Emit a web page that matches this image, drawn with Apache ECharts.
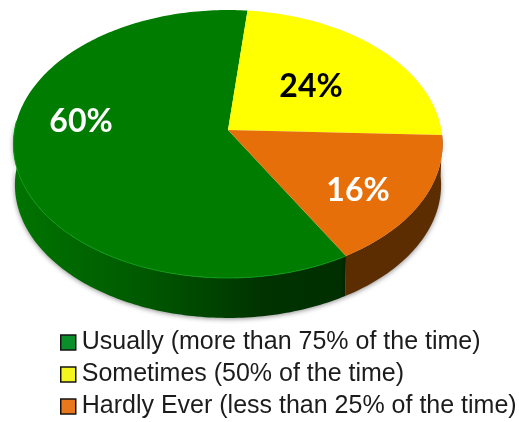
<!DOCTYPE html>
<html>
<head>
<meta charset="utf-8">
<style>html,body{margin:0;padding:0;background:#fff}#c{width:519px;height:422px}</style>
<script src="https://cdn.jsdelivr.net/npm/echarts@6/dist/echarts.min.js"></script>
</head>
<body>
<div id="c"></div>
<script>
const categories = ['Usually (more than 75% of the time)', 'Sometimes (50% of the time)', 'Hardly Ever (less than 25% of the time)'];
const percentValues = [60, 24, 16];
const percentLabels = ['60%', '24%', '16%'];
const topColors = ['#007c00', '#ffff00', '#e76f0a'];
const labelColors = ['#ffffff', '#000000', '#ffffff'];
const legendColors = ['#0b8f2a', '#f4f41e', '#e8781c'];

// projection of the tilted disc
const CX = 228, CY = 130, R = 213.4, SY = 132.5, K = -0.1045;
const BASE_SCALE = 0.993, BASE_DROP = 41;
const START_DEG = 149.8, FRONT_FROM = 92, FRONT_TO = 274;
const LABEL_AT = [[81, 122], [311, 87], [358, 191]];
const total = percentValues.reduce((a, b) => a + b, 0);

function rim(deg, scale, drop) {
  const a = deg * Math.PI / 180, X = Math.sin(a), Y = -Math.cos(a), w = 1 + K * Y;
  return [CX + scale * R * X / w, CY + drop + scale * SY * Y / w];
}
function arc(from, to, scale, drop) {
  const pts = [], n = Math.max(2, Math.ceil(Math.abs(to - from)));
  for (let i = 0; i <= n; i++) pts.push(rim(from + (to - from) * i / n, scale, drop));
  return pts;
}
const sideFills = [
  {type: 'linear', x: 13, y: 0, x2: 345, y2: 0, global: true, colorStops: [
    {offset: 0, color: '#007400'}, {offset: 0.38, color: '#005a00'},
    {offset: 0.75, color: '#003300'}, {offset: 1, color: '#002e00'}]},
  '#8a8a00',
  '#5c2d00'
];

function renderSlice(index) {
  return function (params, api) {
    const value = api.value(0);
    let before = 0;
    for (let i = 0; i < index; i++) before += percentValues[i];
    const from = (START_DEG + before / total * 360) % 360;
    const to = from + value / total * 360;
    const children = [];
    const sFrom = Math.max(from, FRONT_FROM), sTo = Math.min(to, FRONT_TO);
    if (sTo > sFrom) {
      const ribbon = arc(sFrom, sTo, 1, 0).concat(arc(sTo, sFrom, BASE_SCALE, BASE_DROP));
      children.push({type: 'polygon', shape: {points: ribbon}, style: {
        fill: sideFills[index], shadowBlur: 5, shadowColor: 'rgba(0,0,0,0.45)', shadowOffsetY: 1}});
    }
    children.push({type: 'polygon', shape: {points: [[CX, CY]].concat(arc(from, to, 1, 0))},
      style: {fill: topColors[index]}});
    if (sTo > sFrom && index === 0) {
      children.push({type: 'polyline', shape: {points: arc(sFrom, sTo, 1, 0)},
        style: {fill: null, stroke: '#0a9a12', lineWidth: 1}});
    }
    return {type: 'group', children};
  };
}
function renderLabel(index) {
  return function () {
    return {type: 'text', x: LABEL_AT[index][0], y: LABEL_AT[index][1], z2: 10, style: {
      text: percentLabels[index], fill: labelColors[index], align: 'center', verticalAlign: 'middle',
      font: 'bold 32px Lato'}};
  };
}

const series = categories.map((name, i) => ({
  name, type: 'custom', coordinateSystem: 'none', silent: true,
  itemStyle: {color: legendColors[i]},
  data: [[percentValues[i]]], renderItem: renderSlice(i), z: 2
}));
categories.forEach((name, i) => series.push({
  name: name, type: 'custom', coordinateSystem: 'none', silent: true,
  itemStyle: {color: legendColors[i]},
  data: [[percentValues[i]]], renderItem: renderLabel(i), z: 5
}));

const chart = echarts.init(document.getElementById('c'), null, {renderer: 'canvas'});
chart.setOption({
  animation: false,
  backgroundColor: '#ffffff',
  legend: {
    orient: 'vertical', left: 60, top: 330, padding: 0,
    itemWidth: 15, itemHeight: 15, itemGap: 7, selectedMode: false,
    icon: 'rect',
    itemStyle: {borderColor: '#141414', borderWidth: 1.5},
    textStyle: {fontFamily: '"Liberation Sans"', fontSize: 25, color: '#1c1c1c', padding: [0, 0, 0, 1]},
    data: categories
  },
  series
});
</script>
</body>
</html>
